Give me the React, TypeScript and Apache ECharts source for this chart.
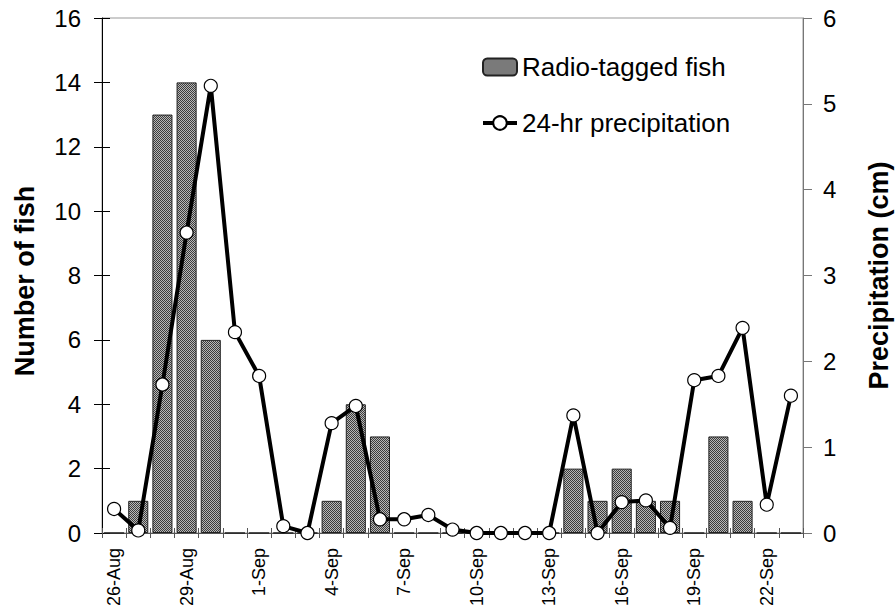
import React, { useEffect, useRef } from "react";
import * as echarts from "echarts";

const dates = [
  "26-Aug", "27-Aug", "28-Aug", "29-Aug", "30-Aug", "31-Aug",
  "1-Sep", "2-Sep", "3-Sep", "4-Sep", "5-Sep", "6-Sep", "7-Sep", "8-Sep",
  "9-Sep", "10-Sep", "11-Sep", "12-Sep", "13-Sep", "14-Sep", "15-Sep",
  "16-Sep", "17-Sep", "18-Sep", "19-Sep", "20-Sep", "21-Sep", "22-Sep", "23-Sep",
];

// Radio-tagged fish counted per day
const fishCounts = [
  0, 1, 13, 14, 6, 0,
  0, 0, 0, 1, 4, 3, 0, 0,
  0, 0, 0, 0, 0, 2, 1,
  2, 1, 1, 0, 3, 1, 0, 0,
];

// 24-hour precipitation (cm)
const precipitation = [
  0.28, 0.03, 1.73, 3.5, 5.21, 2.34,
  1.83, 0.08, 0.0, 1.28, 1.48, 0.16, 0.16, 0.21,
  0.04, 0.0, 0.0, 0.0, 0.0, 1.37, 0.0,
  0.36, 0.38, 0.06, 1.78, 1.83, 2.39, 0.33, 1.6,
];

const fishTicks = { min: 0, max: 16, interval: 2 };
const precipTicks = { min: 0, max: 6, interval: 1 };

const FONT = "'Liberation Sans', Arial, Helvetica, sans-serif";

function makeCheckerPattern() {
  const c = document.createElement("canvas");
  c.width = 2;
  c.height = 2;
  const ctx = c.getContext("2d")!;
  ctx.fillStyle = "#b8b8b8";
  ctx.fillRect(0, 0, 2, 2);
  ctx.fillStyle = "#3c3c3c";
  ctx.fillRect(0, 0, 1, 1);
  ctx.fillRect(1, 1, 1, 1);
  return { image: c, repeat: "repeat", imageWidth: 2, imageHeight: 2 };
}

export default function App() {
  const ref = useRef<HTMLDivElement>(null);

  useEffect(() => {
    document.body.style.margin = "0";
    if (!ref.current) return;
    const chart = echarts.init(ref.current, undefined, { renderer: "svg" });

    const hiddenAxisBits = {
      axisLine: { show: false },
      axisLabel: { show: false },
      splitLine: { show: false },
    };

    chart.setOption({
      animation: false,
      backgroundColor: "#fff",
      textStyle: { fontFamily: FONT },
      grid: {
        left: 102,
        right: 92,
        top: 18,
        bottom: 78,
        containLabel: false,
        outerBoundsMode: "none",
        show: true,
        borderColor: "#999",
        borderWidth: 1,
        backgroundColor: "transparent",
      },
      legend: {
        orient: "vertical",
        left: 476,
        top: 49,
        itemWidth: 34,
        itemHeight: 17,
        itemGap: 30,
        lineStyle: { width: 4 },
        data: ["Radio-tagged fish", "24-hr precipitation"],
        textStyle: { fontSize: 26, color: "#000", fontFamily: FONT },
      },
      xAxis: [
        {
          type: "category",
          data: dates,
          position: "bottom",
          axisLine: { lineStyle: { color: "#555", width: 1 } },
          axisTick: {
            show: true,
            interval: 0,
            length: 5,
            lineStyle: { color: "#555" },
          },
          axisLabel: {
            interval: 2,
            rotate: 90,
            margin: 15,
            fontSize: 18,
            color: "#000",
            fontFamily: FONT,
          },
          splitLine: { show: false },
        },
        {
          type: "category",
          data: dates,
          position: "bottom",
          axisTick: {
            show: true,
            inside: true,
            interval: 0,
            length: 5,
            lineStyle: { color: "#555" },
          },
          ...hiddenAxisBits,
        },
      ],
      yAxis: [
        {
          type: "value",
          position: "left",
          ...fishTicks,
          name: "Number of fish",
          nameLocation: "middle",
          nameRotate: 90,
          nameGap: 64,
          nameTextStyle: {
            fontSize: 27,
            fontWeight: "bold",
            color: "#000",
            fontFamily: FONT,
            padding: [0, 11, 0, 0],
          },
          axisLine: { show: true, lineStyle: { color: "#000", width: 1 } },
          axisTick: { show: true, length: 8, lineStyle: { color: "#000" } },
          axisLabel: { fontSize: 24, margin: 21, color: "#000", fontFamily: FONT },
          splitLine: { show: false },
        },
        {
          type: "value",
          position: "right",
          ...precipTicks,
          name: "Precipitation (cm)",
          nameLocation: "middle",
          nameRotate: 90,
          nameGap: 62,
          nameTextStyle: {
            fontSize: 27,
            fontWeight: "bold",
            color: "#000",
            fontFamily: FONT,
          },
          axisLine: { show: true, lineStyle: { color: "#777", width: 1 } },
          axisTick: { show: true, length: 9, lineStyle: { color: "#777" } },
          axisLabel: { fontSize: 24, margin: 20, color: "#000", fontFamily: FONT },
          splitLine: { show: false },
        },
        {
          type: "value",
          position: "left",
          ...fishTicks,
          axisTick: {
            show: true,
            inside: true,
            length: 8,
            lineStyle: { color: "#000" },
          },
          ...hiddenAxisBits,
        },
      ],
      series: [
        {
          name: "Radio-tagged fish",
          type: "bar",
          xAxisIndex: 0,
          yAxisIndex: 0,
          data: fishCounts,
          barCategoryGap: "17%",
          itemStyle: {
            color: makeCheckerPattern(),
            borderColor: "#222",
            borderWidth: 1,
          },
        },
        {
          name: "24-hr precipitation",
          type: "line",
          xAxisIndex: 0,
          yAxisIndex: 1,
          data: precipitation,
          symbol: "circle",
          symbolSize: 13,
          lineStyle: { color: "#000", width: 4 },
          itemStyle: { color: "#fff", borderColor: "#000", borderWidth: 1.2 },
        },
      ],
    });

    return () => chart.dispose();
  }, []);

  return <div ref={ref} style={{ width: 895, height: 611 }} />;
}
